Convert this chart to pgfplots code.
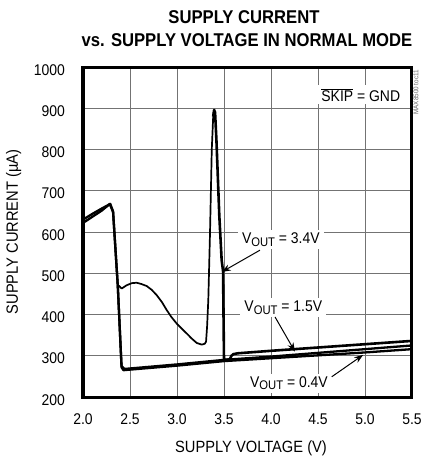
\documentclass[border=0pt]{standalone}
\usepackage{pgfplots}
\pgfplotsset{compat=1.18}
\usetikzlibrary{arrows.meta}
\usepackage{fontspec}
\setmainfont{Liberation Sans}[FakeStretch=0.9]
\newcommand{\vout}{V\raisebox{-2.5bp}{\fontsize{12.5bp}{13bp}\selectfont OUT}}
\begin{document}
\begin{tikzpicture}
\path[use as bounding box] (-83bp,-65bp) rectangle (338bp,397bp);
\begin{axis}[
  scale only axis, width=329bp, height=330bp,
  xmin=2, xmax=5.5, ymin=200, ymax=1000,
  xtick={2,2.5,...,5.5}, ytick={200,300,...,1000},
  xticklabels={2.0,2.5,3.0,3.5,4.0,4.5,5.0,5.5},
  yticklabels={200,300,400,500,600,700,800,900,1000},
  grid=major, major grid style={black!55, line width=0.9bp},
  major tick length=0pt,
  axis line style={line width=3bp},
  /pgf/number format/assume math mode=true,
  xticklabel style={font=\fontsize{15.5bp}{17bp}\selectfont, anchor=base, inner sep=0pt, yshift=-27.3bp},
  yticklabel style={font=\fontsize{15.5bp}{17bp}\selectfont, anchor=east, inner sep=0pt, xshift=-18bp, yshift=-2.7bp},
]
% VOUT = 0.4V
\addplot[black, line width=2.3bp, line join=round] coordinates {
(2.00,622) (2.10,637) (2.20,652) (2.285,668) (2.32,648) (2.37,470) (2.41,272) (2.43,265) (3.00,276) (3.50,287) (4.00,294) (4.50,301) (5.00,308) (5.50,316)};
% VOUT = 1.5V
\addplot[black, line width=2.3bp, line join=round] coordinates {
(2.00,630) (2.10,644) (2.20,657) (2.29,668) (2.32,650) (2.37,470) (2.41,275) (2.44,268) (3.00,279) (3.50,290) (4.00,298) (4.50,307) (5.00,316) (5.50,325)};
% VOUT = 3.4V thin part
\addplot[black, line width=1.7bp, line join=round] coordinates {
(2.38,470) (2.412,463) (2.465,471) (2.52,476) (2.571,477) (2.62,474) (2.678,469) (2.73,460) (2.784,447) (2.84,430) (2.89,411) (2.94,394) (2.997,378) (3.05,366) (3.103,354) (3.16,341) (3.21,331) (3.263,327) (3.295,329) (3.309,334) (3.32,370) (3.333,435) (3.351,596) (3.37,800) (3.385,880) (3.395,896)};
% VOUT = 3.4V thick part
\addplot[black, line width=2.6bp, line join=round] coordinates {
(3.385,880) (3.395,896) (3.405,890) (3.42,820) (3.45,640) (3.475,532) (3.49,505) (3.50,290) (3.56,291) (3.58,300) (3.60,304) (3.65,306) (4.00,312) (4.50,320) (5.00,328) (5.50,336)};

\node[fill=white, inner sep=3bp, anchor=base, font=\fontsize{15.5bp}{17bp}\selectfont] at (axis cs:4.955,917) {$\overline{\mbox{SKIP}}$ = GND};
\node[fill=white, inner xsep=4bp, inner ysep=3bp, anchor=base, font=\fontsize{15.5bp}{17bp}\selectfont] at (axis cs:4.105,572) {\vout\ = 3.4V};
\node[fill=white, inner xsep=4bp, inner ysep=3bp, anchor=base, font=\fontsize{15.5bp}{17bp}\selectfont] at (axis cs:4.131,406.6) {\vout\ = 1.5V};
\node[fill=white, inner xsep=4bp, inner ysep=3bp, anchor=base, font=\fontsize{15.5bp}{17bp}\selectfont] at (axis cs:4.191,223.4) {\vout\ = 0.4V};
\draw[line width=1bp, -{Stealth[length=9bp,width=6.5bp]}] (axis cs:3.883,556) -- (axis cs:3.476,503);
\draw[line width=1bp, -{Stealth[length=9bp,width=6.5bp]}] (axis cs:4.043,394) -- (axis cs:4.255,310);
\draw[line width=1bp, -{Stealth[length=9bp,width=6.5bp]}] (axis cs:4.646,249) -- (axis cs:4.98,302);
\end{axis}
\node[anchor=base, font=\fontsize{18.5bp}{20bp}\selectfont\bfseries] at (161bp,373.7bp) {SUPPLY CURRENT};
\node[anchor=base, font=\fontsize{18.5bp}{20bp}\selectfont\bfseries] at (164bp,350.3bp) {vs. SUPPLY VOLTAGE IN NORMAL MODE};
\node[anchor=base, font=\fontsize{16.3bp}{18bp}\selectfont] at (168bp,-55.3bp) {SUPPLY VOLTAGE (V)};
\node[anchor=base, rotate=90, font=\fontsize{16.3bp}{18bp}\selectfont] at (-65bp,165bp) {SUPPLY CURRENT (µA)};
\node[anchor=east, rotate=90, inner sep=0pt, text=black!60, font=\fontsize{7bp}{8bp}\selectfont] at (333bp,327bp) {MAX8500 toc11};
\end{tikzpicture}
\end{document}
